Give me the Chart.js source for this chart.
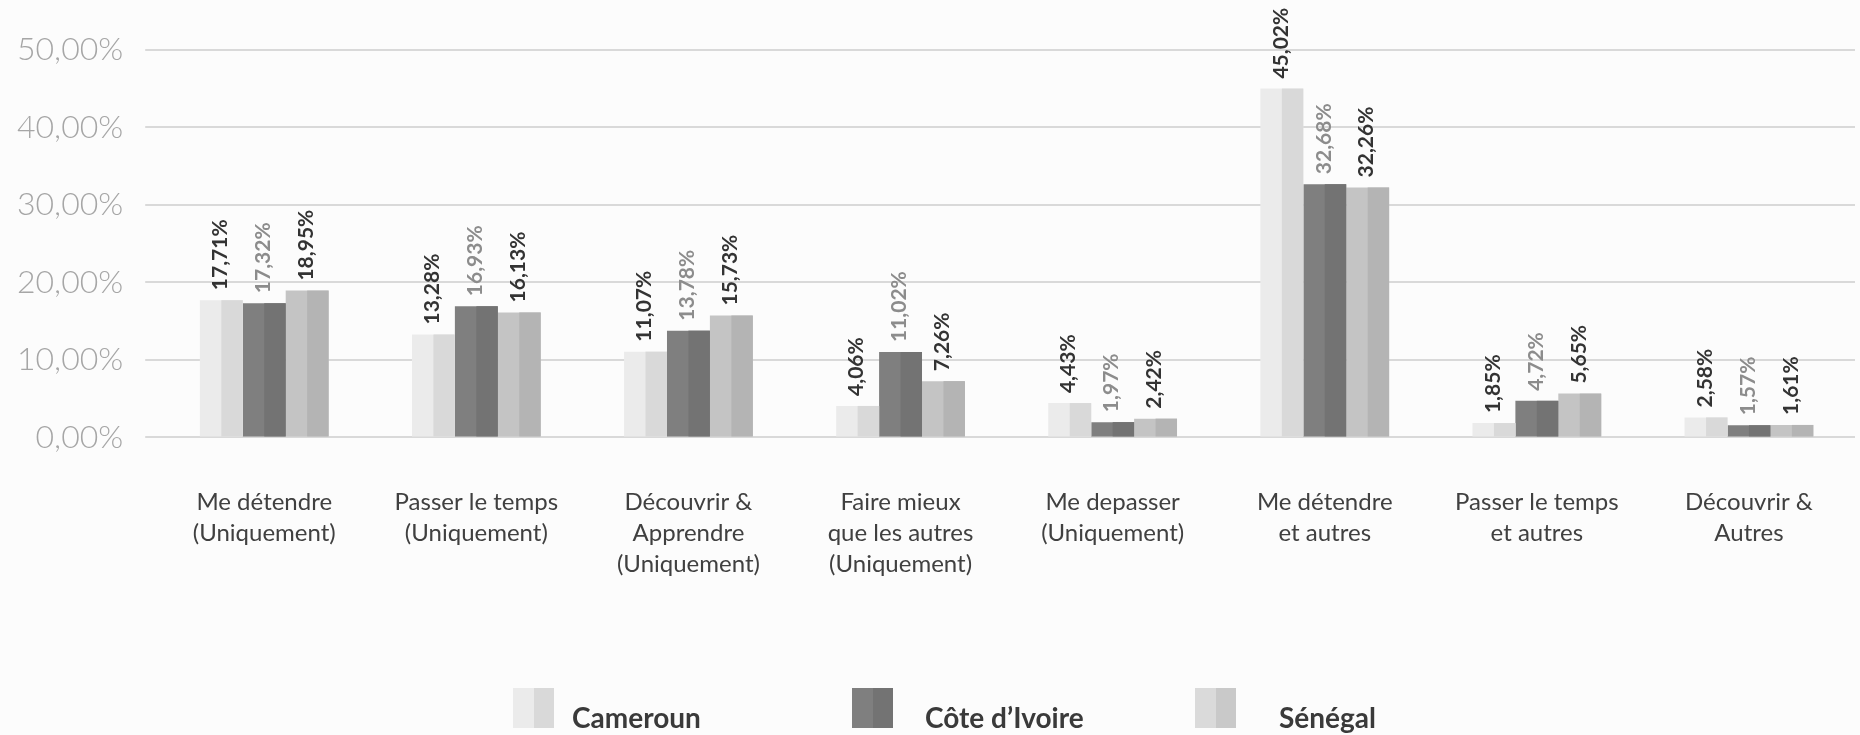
<!DOCTYPE html>
<html lang="fr">
<head>
<meta charset="utf-8">
<title>Motivations par pays</title>
<script src="https://cdn.jsdelivr.net/npm/chart.js@4.4.1/dist/chart.umd.min.js"></script>
<style>
    html, body {
        margin: 0;
        padding: 0;
        background: #fcfcfc;
    }
    #chartBox {
        width: 1860px;
        height: 735px;
    }
</style>
</head>
<body>
<div id="chartBox">
    <canvas id="motivChart"></canvas>
</div>

<script>
// ===================================
// DATA
// ===================================

// Categories on the x axis (multi-line labels)
const CATEGORIES = [
    ['Me détendre', '(Uniquement)'],
    ['Passer le temps', '(Uniquement)'],
    ['Découvrir &', 'Apprendre', '(Uniquement)'],
    ['Faire mieux', 'que les autres', '(Uniquement)'],
    ['Me depasser', '(Uniquement)'],
    ['Me détendre', 'et autres'],
    ['Passer le temps', 'et autres'],
    ['Découvrir &', 'Autres']
];

// Series names
const SERIES_NAMES = ['Cameroun', 'Côte d\u2019Ivoire', 'Sénégal'];

// Percentages per country
const CAMEROUN = [17.71, 13.28, 11.07, 4.06, 4.43, 45.02, 1.85, 2.58];
const COTE_IVOIRE = [17.32, 16.93, 13.78, 11.02, 1.97, 32.68, 4.72, 1.57];
const SENEGAL = [18.95, 16.13, 15.73, 7.26, 2.42, 32.26, 5.65, 1.61];

// Y axis tick values
const Y_TICKS = [0, 10, 20, 30, 40, 50];

// ===================================
// STYLES
// ===================================
const LEFT_COLORS = ['#ebebeb', '#7f7f7f', '#c4c4c4'];   // left half of each bar
const RIGHT_COLORS = ['#d9d9d9', '#737373', '#b4b4b4'];  // right half of each bar
const LABEL_COLORS = ['#333333', '#8c8c8c', '#333333'];  // value labels
const LEGEND_LEFT = ['#ebebeb', '#7f7f7f', '#dadada'];
const LEGEND_RIGHT = ['#d9d9d9', '#737373', '#c9c9c9'];

const FONT = 'Lato, "Open Sans", sans-serif';

// French number format: 17,71%
function frPercent(v) {
    return v.toFixed(2).replace('.', ',') + '%';
}

// ===================================
// PLUGIN: darker right half of every bar
// ===================================
const twoToneBars = {
    id: 'twoToneBars',
    afterDatasetDraw(chart, args) {
        const ctx = chart.ctx;
        const meta = args.meta;
        ctx.save();
        ctx.fillStyle = RIGHT_COLORS[args.index];
        meta.data.forEach(function (bar) {
            const p = bar.getProps(['x', 'y', 'base', 'width'], true);
            ctx.fillRect(p.x, p.y, p.width / 2, p.base - p.y);
        });
        ctx.restore();
    }
};

// ===================================
// PLUGIN: rotated value labels above bars
// ===================================
const valueLabels = {
    id: 'valueLabels',
    afterDatasetsDraw(chart) {
        const ctx = chart.ctx;
        ctx.save();
        ctx.font = 'bold 21px ' + FONT;
        ctx.textAlign = 'left';
        ctx.textBaseline = 'middle';
        chart.data.datasets.forEach(function (ds, i) {
            const meta = chart.getDatasetMeta(i);
            ctx.fillStyle = LABEL_COLORS[i];
            meta.data.forEach(function (bar, j) {
                const p = bar.getProps(['x', 'y'], true);
                ctx.save();
                ctx.translate(p.x - 1, p.y - 10);
                ctx.rotate(-Math.PI / 2);
                ctx.fillText(frPercent(ds.data[j]), 0, 0);
                ctx.restore();
            });
        });
        ctx.restore();
    }
};

// ===================================
// PLUGIN: legend at the bottom (two-tone boxes)
// ===================================
const LEGEND_BOX_X = [513, 852, 1195];
const LEGEND_TEXT_X = [572, 925, 1279];
const LEGEND_TOP = 688;

const bottomLegend = {
    id: 'bottomLegend',
    afterDraw(chart) {
        const ctx = chart.ctx;
        ctx.save();
        ctx.font = 'bold 28px ' + FONT;
        ctx.textAlign = 'left';
        ctx.textBaseline = 'alphabetic';
        chart.data.datasets.forEach(function (ds, i) {
            const x = LEGEND_BOX_X[i];
            ctx.fillStyle = LEGEND_LEFT[i];
            ctx.fillRect(x, LEGEND_TOP, 21, 40);
            ctx.fillStyle = LEGEND_RIGHT[i];
            ctx.fillRect(x + 21, LEGEND_TOP, 20, 40);
            ctx.fillStyle = '#3a3a3a';
            ctx.fillText(ds.label, LEGEND_TEXT_X[i], LEGEND_TOP + 40);
        });
        ctx.restore();
    }
};

// ===================================
// CHART
// ===================================
function buildDatasets() {
    const series = [CAMEROUN, COTE_IVOIRE, SENEGAL];
    return series.map(function (values, i) {
        return {
            label: SERIES_NAMES[i],
            data: values,
            backgroundColor: LEFT_COLORS[i],
            borderWidth: 0,
            categoryPercentage: 0.607,
            barPercentage: 1.0
        };
    });
}

function initChart() {
    const ctx = document.getElementById('motivChart').getContext('2d');

    new Chart(ctx, {
        type: 'bar',
        data: {
            labels: CATEGORIES,
            datasets: buildDatasets()
        },
        options: {
            responsive: true,
            maintainAspectRatio: false,
            animation: false,
            layout: {
                padding: { top: 50, left: -5, right: 5, bottom: 114 }
            },
            plugins: {
                legend: { display: false },
                title: { display: false },
                tooltip: { enabled: false }
            },
            scales: {
                x: {
                    grid: { display: false },
                    border: { display: false },
                    ticks: {
                        autoSkip: false,
                        maxRotation: 0,
                        padding: 41,
                        color: '#404040',
                        font: { family: FONT, size: 24, lineHeight: 1.3 }
                    }
                },
                y: {
                    min: 0,
                    max: 50,
                    afterBuildTicks: function (axis) {
                        axis.ticks = Y_TICKS.map(function (v) { return { value: v }; });
                    },
                    border: { display: false },
                    grid: {
                        color: '#d9d9d9',
                        lineWidth: 2,
                        drawTicks: true,
                        tickLength: 13
                    },
                    ticks: {
                        padding: 22,
                        color: '#a6a6a6',
                        font: { family: FONT, size: 32, weight: 300 },
                        callback: function (value) {
                            return frPercent(value);
                        }
                    }
                }
            }
        },
        plugins: [twoToneBars, valueLabels, bottomLegend]
    });
}

initChart();
</script>
</body>
</html>
